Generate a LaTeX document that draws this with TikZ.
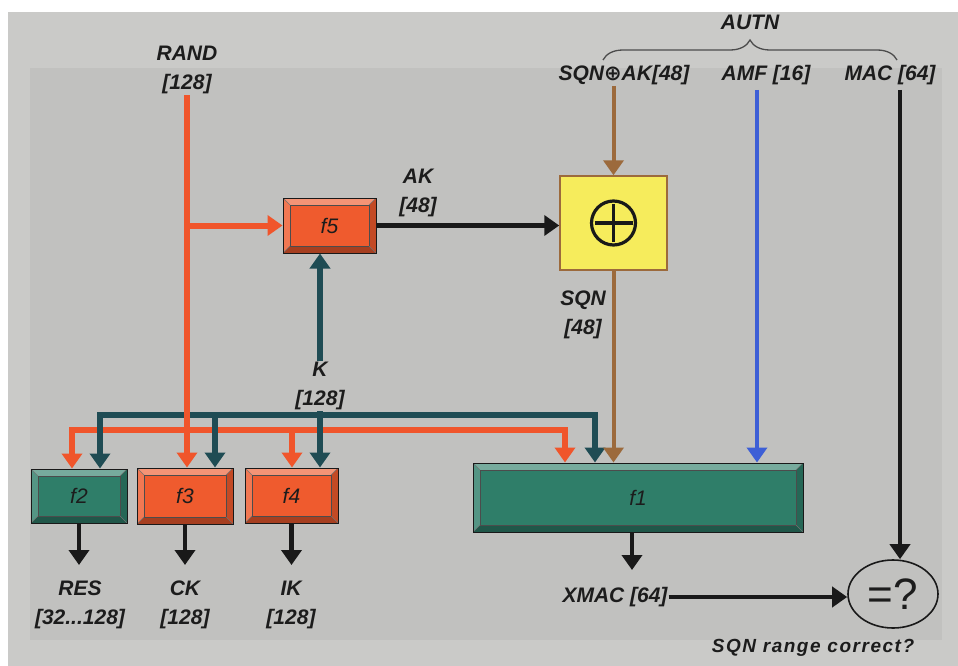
\documentclass[tikz,border=0pt]{standalone}
\usepackage{fontspec}
\setmainfont{Liberation Sans}
\newfontfamily\djv{DejaVu Sans}
\usetikzlibrary{arrows.meta,shapes.geometric,decorations.pathreplacing}
\definecolor{redF}{HTML}{EF5B2E}
\definecolor{redL}{HTML}{F0552B}
\definecolor{tealL}{HTML}{1F4C54}
\definecolor{greenF}{HTML}{2F7E69}
\definecolor{yellowF}{HTML}{F6EC5C}
\definecolor{brownL}{HTML}{9C6A3C}
\definecolor{blueL}{HTML}{3D5FD6}
\definecolor{frameC}{HTML}{CACAC8}
\definecolor{innerC}{HTML}{C1C1BF}
\definecolor{txtC}{HTML}{1C1C1C}
\newcommand\lblfont{\fontsize{21}{29}\selectfont\bfseries\itshape}
\newcommand\boxfont{\fontsize{21}{22}\selectfont\itshape}
\tikzset{
  lbl/.style={font=\lblfont, align=center, text=txtC, inner sep=1pt},
  fbox/.style={draw=black!90, line width=1pt, fill=#1, inner sep=0pt,
    font=\boxfont, text=txtC,
    path picture={
      \path (path picture bounding box.north west) coordinate (pNW)
            (path picture bounding box.south east) coordinate (pSE);
      \path (pNW) ++(7pt,-7pt) coordinate (iNW);
      \path (pSE) ++(-7pt,7pt) coordinate (iSE);
      \fill[white,opacity=.35] (pNW) -- (pNW -| pSE) -- (iNW -| iSE) -- (iNW) -- cycle;
      \fill[white,opacity=.18] (pNW) -- (iNW) -- (iNW |- iSE) -- (pNW |- pSE) -- cycle;
      \fill[black,opacity=.30] (pNW |- pSE) -- (iNW |- iSE) -- (iSE) -- (pSE) -- cycle;
      \fill[black,opacity=.18] (pSE) -- (iSE) -- (iNW -| iSE) -- (pNW -| pSE) -- cycle;
      \draw[black!70, line width=.7pt] (iNW) rectangle (iSE);
      \draw[black!55, line width=.5pt] (pNW) -- (iNW) (pSE) -- (iSE)
        (pNW -| pSE) -- (iNW -| iSE) (pNW |- pSE) -- (iNW |- iSE);
    }},
  redln/.style={draw=redL, line width=6pt},
  tealln/.style={draw=tealL, line width=6pt},
  blkln/.style={draw=black!90, line width=4.5pt},
  brownln/.style={draw=brownL, line width=4pt},
  blueln/.style={draw=blueL, line width=4pt},
}
\begin{document}
\begin{tikzpicture}[x=1pt,y=-1pt, >={Triangle[width=20pt,length=15pt]}]
% background
\fill[white] (0,0) rectangle (958,666);
\fill[frameC] (8,12) rectangle (958,666);
\fill[innerC] (30,68) rectangle (942,640);
\useasboundingbox (0,0) rectangle (958,666);

% boxes
\node[fbox=redF, minimum width=93pt, minimum height=55pt] (f5) at (329.5,225.5) {f5};
\node[fbox=greenF, minimum width=96pt, minimum height=54pt] (f2) at (79,496) {f2};
\node[fbox=redF, minimum width=96pt, minimum height=56pt] (f3) at (185,496) {f3};
\node[fbox=redF, minimum width=93pt, minimum height=55pt] (f4) at (291.5,495.5) {f4};
\node[fbox=greenF, minimum width=330pt, minimum height=69pt] (f1) at (638,497.5) {f1};
\node[draw=brownL, line width=1.5pt, fill=yellowF, minimum width=107pt, minimum height=94pt] (xor) at (613.5,223) {};
\draw[line width=3.2pt, black!90] (xor.center) circle (22pt);
\draw[line width=3.2pt, black!90] ([xshift=-19pt]xor.center) -- ([xshift=19pt]xor.center)
  ([yshift=-19pt]xor.center) -- ([yshift=19pt]xor.center);
\node[ellipse, draw=black!90, line width=1.6pt, minimum width=90pt, minimum height=68pt,
  inner sep=0pt, text=txtC, font=\fontsize{44}{44}\selectfont] (eq) at (893,594) {=?};

% labels
\node[lbl] (rand) at (187,70) {RAND\\{[128]}};
\node[lbl] (autn) at (750,22) {AUTN};
\node[lbl] (sqnak) at (624,75) {SQN{\djv ⊕}AK[48]};
\node[lbl] (amf) at (766,75) {AMF [16]};
\node[lbl] (mac) at (890,75) {MAC [64]};
\node[lbl] (ak) at (418,193) {AK\\{[48]}};
\node[lbl] (sqn) at (583,315) {SQN\\{[48]}};
\node[lbl] (res) at (80,605) {RES\\{[32...128]}};
\node[lbl] (ck) at (185,605) {CK\\{[128]}};
\node[lbl] (ik) at (291,605) {IK\\{[128]}};
\node[lbl] (xmac) at (615,597) {XMAC [64]};
\node[lbl, font=\fontsize{19}{22}\selectfont\bfseries\itshape\addfontfeature{LetterSpace=8}] (rng) at (813,648) {SQN range correct?};

% brace
\coordinate (brL) at (603,60);
\coordinate (brR) at (897,60);
\draw[decorate, decoration={brace, amplitude=20pt}, line width=1.3pt, black!70] (brL) -- (brR);

% teal K network (horizontal)
\coordinate (tL) at (100,415);
\coordinate (tR) at (595,415);
\coordinate (t3) at (215,415);
\coordinate (kx) at (320,415);
\draw[tealln, line cap=rect] (tL) -- (tR);

% red RAND network
\draw[redln,->] (rand.south) -- (rand.south |- f3.north);
\coordinate (rb) at (rand.south |- f5.west);
\draw[redln,->] (rb) -- (f5.west);
\coordinate (rL) at (72,430);
\coordinate (rR) at (565,430);
\coordinate (r4) at (292,430);
\draw[redln,<->] (rL |- f2.north) -- (rL) -- (rR) -- (rR |- f1.north);
\draw[redln,->] (r4) -- (r4 |- f4.north);

% teal drops
\draw[tealln,->] (tL) -- (tL |- f2.north);
\draw[tealln,->] (t3) -- (t3 |- f3.north);
\draw[tealln,->] (kx) -- (kx |- f4.north);
\draw[tealln,->] (tR) -- (tR |- f1.north);
\draw[tealln,->] (kx) -- (kx |- f5.south);
\node[lbl, fill=innerC] (k) at (320,386) {K\\{[128]}};

% AK, SQN, AMF, MAC
\draw[blkln,->] (f5.east) -- (f5.east -| xor.west);
\draw[brownln,->] (xor.north |- sqnak.south) -- (xor.north);
\draw[brownln,->] (xor.south) -- (xor.south |- f1.north);
\coordinate (bl) at (757,90);
\draw[blueln,->] (bl) -- (bl |- f1.north);
\coordinate (mc) at (900,90);
\draw[blkln,->] (mc) -- (mc |- eq.north);

% outputs
\coordinate (outy) at (0,565);
\draw[blkln,->] (f2.south) -- (f2.south |- outy);
\draw[blkln,->] (f3.south) -- (f3.south |- outy);
\draw[blkln,->] (f4.south) -- (f4.south |- outy);
\coordinate (f1o) at (632,570);
\draw[blkln,->] (f1.south -| f1o) -- (f1o);
\draw[blkln,->] (xmac.east) -- (xmac.east -| eq.west);
\end{tikzpicture}
\end{document}
